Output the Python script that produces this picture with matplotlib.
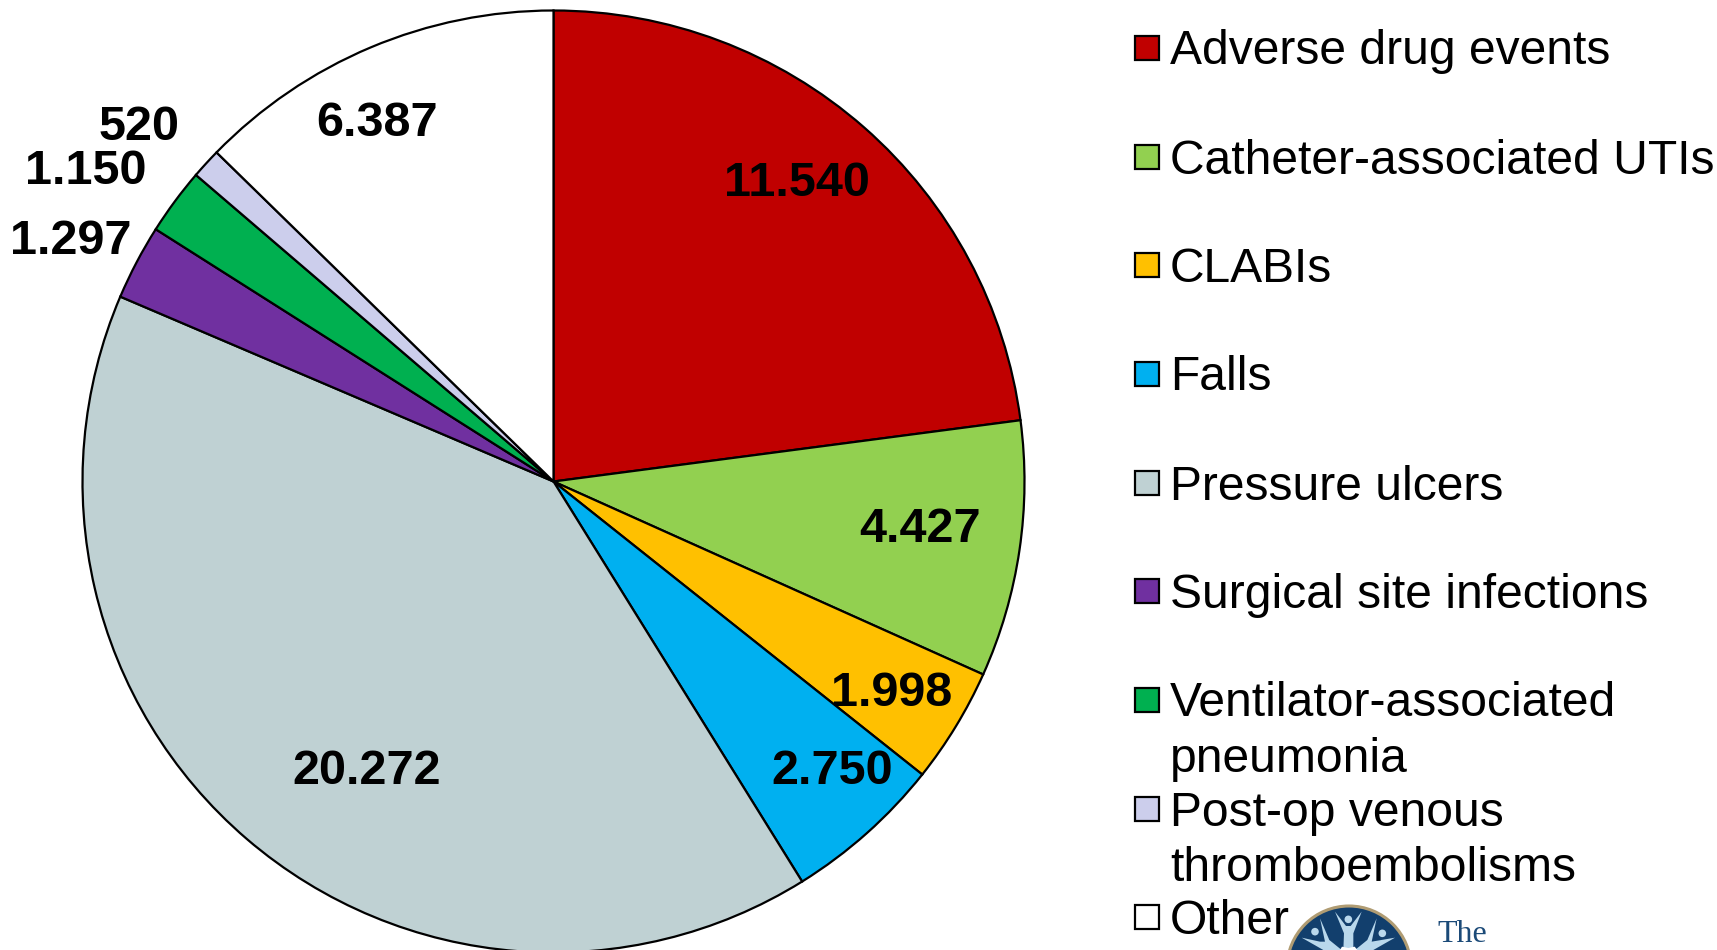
import numpy as np
import matplotlib
matplotlib.use("Agg")
import matplotlib.pyplot as plt
from matplotlib.patches import Rectangle, Circle, Polygon

categories = ["Adverse drug events", "Catheter-associated UTIs", "CLABIs", "Falls",
              "Pressure ulcers", "Surgical site infections",
              "Ventilator-associated\npneumonia", "Post-op venous\nthromboembolisms", "Other"]
values = [11540, 4427, 1998, 2750, 20272, 1297, 1150, 520, 6387]
value_labels = ["11.540", "4.427", "1.998", "2.750", "20.272", "1.297", "1.150", "520", "6.387"]
colors = ["#C00000", "#92D050", "#FFC000", "#00B0F0", "#BFD1D3", "#7030A0", "#00B050", "#CCCEEC", "#FFFFFF"]
label_px = [(797, 183), (920, 530), (892, 694), (832, 772), (367, 772), (71, 241), (86, 172), (139, 127), (377, 124)]
legend_y_px = [48, 157, 265, 374, 483, 591, 700, 809, 917]

W, H = 1717, 950
plt.rcParams["font.family"] = ["Liberation Sans", "DejaVu Sans"]
fig = plt.figure(figsize=(W / 100, H / 100), dpi=100)

cx, cy, R = 553.5, 481.5, 471
ax = fig.add_axes([(cx - R) / W, 1 - (cy + R) / H, 2 * R / W, 2 * R / H])
ax.pie(values, colors=colors, startangle=90, counterclock=False, radius=1,
       wedgeprops=dict(edgecolor="black", linewidth=1.6, clip_on=False))
ax.set_xlim(-1, 1)
ax.set_ylim(-1, 1)
ax.set_aspect("equal")
ax.axis("off")

overlay = fig.add_axes([0, 0, 1, 1])
overlay.set_xlim(0, W)
overlay.set_ylim(H, 0)
overlay.axis("off")

for lab, (x, y) in zip(value_labels, label_px):
    overlay.text(x, y, lab, ha="center", va="center", fontsize=35, fontweight="bold", color="black")

for cat, col, y in zip(categories, colors, legend_y_px):
    overlay.add_patch(Rectangle((1135, y - 12), 24, 24, facecolor=col, edgecolor="black", linewidth=1.6))
    overlay.text(1170, y - 18.5, cat, ha="left", va="top", fontsize=34.6, color="black", linespacing=1.3)

# partial logo at the bottom edge
navy, light, gold = "#123F6D", "#B9D8EC", "#B09C73"
overlay.add_patch(Circle((1349, 968), 62, facecolor=navy, edgecolor=gold, linewidth=2.2))
def zp(pts):
    return [(1270 + a / 3, 890 + b / 3) for a, b in pts]
for shape in ([(195, 65), (228, 108), (242, 108), (275, 65), (250, 130), (250, 180), (220, 180), (222, 130)],
              [(150, 85), (178, 150), (215, 180), (160, 180), (95, 143), (150, 155), (165, 155)],
              [(320, 85), (305, 155), (375, 143), (310, 180), (255, 180), (292, 150)]):
    overlay.add_patch(Polygon(zp(shape), closed=True, facecolor=light, edgecolor="none"))
for hx, hy in zp([(235, 88), (135, 125), (337, 130)]):
    overlay.add_patch(Circle((hx, hy), 3.8, facecolor=light, edgecolor="none"))
overlay.add_patch(Polygon(zp([(210, 180), (216, 170), (235, 174), (254, 170), (262, 180)]), closed=True,
                          facecolor="white", edgecolor="none"))
overlay.text(1462, 935, "The", ha="center", va="center", fontsize=23, family="Liberation Serif", color="#1B4A78")

fig.savefig("out.png", dpi=100)
